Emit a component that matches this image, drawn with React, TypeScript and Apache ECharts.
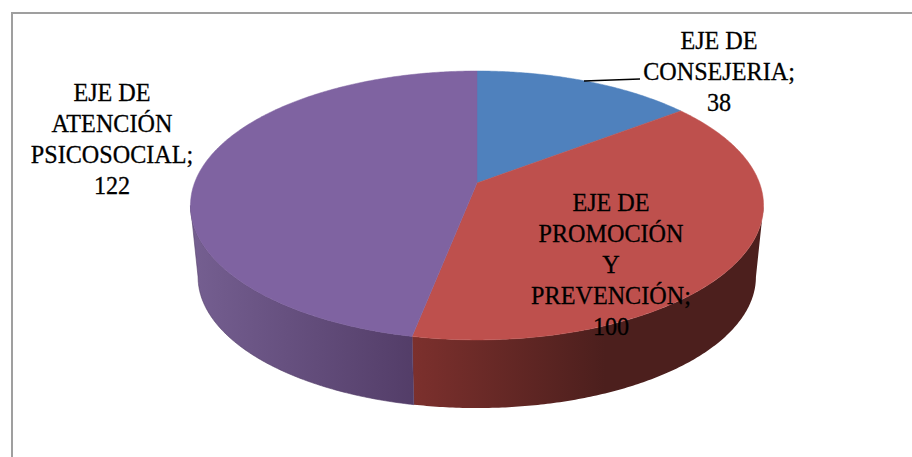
import React, { useEffect, useRef } from "react";
import * as echarts from "echarts";

const labelNames = ["EJE DE\nCONSEJERIA", "EJE DE\nPROMOCIÓN\nY\nPREVENCIÓN", "EJE DE\nATENCIÓN\nPSICOSOCIAL"];
const seriesValues = [38, 100, 122];
const topColors = ["#4f81bd", "#be504d", "#7f63a1"];
const wallStops: string[][] = [
  ["#3c6290", "#2c4a6e"],
  ["#7c302d", "#4c1f1d"],
  ["#755f91", "#533d68"],
];
const labelPositions = [
  [719, 71],
  [611, 264.5],
  [112, 138.5],
];

const VX = 477, VY = 183, K = 0.167;
const TOP = { a: 282.5, b: 130.7, cy: VY };
const BOT = { a: 275, b: 127.5, cy: 255 };
const VISIBLE = Math.acos(-K);

function rim(r: { a: number; b: number; cy: number }, t: number) {
  const X = Math.sin(t), Y = -Math.cos(t), w = 1 - K * Y;
  return [VX + (r.a * X) / w, r.cy + (r.b * Y) / w];
}
function arc(r: any, from: number, to: number) {
  const n = Math.max(2, Math.ceil(Math.abs(to - from) / 0.01));
  const pts: number[][] = [];
  for (let i = 0; i <= n; i++) pts.push(rim(r, from + ((to - from) * i) / n));
  return pts;
}

const total = seriesValues.reduce((s, v) => s + v, 0);
const angles = seriesValues.map((_, i) => {
  const before = seriesValues.slice(0, i).reduce((s, v) => s + v, 0);
  return [(before / total) * 2 * Math.PI, ((before + seriesValues[i]) / total) * 2 * Math.PI];
});

function renderItem(params: any, api: any) {
  const i = params.dataIndex;
  const [a0, a1] = angles[i];
  const children: any[] = [];
  const from = Math.max(a0, VISIBLE);
  const to = Math.min(a1, 2 * Math.PI - VISIBLE);
  if (to > from) {
    const pts = [...arc(TOP, from, to), ...arc(BOT, to, from)];
    const [c0, c1] = wallStops[i];
    const stops = i === 1
      ? [{ offset: 0, color: c0 }, { offset: 0.55, color: c1 }, { offset: 1, color: c1 }]
      : [{ offset: 0, color: c0 }, { offset: 1, color: c1 }];
    const fill = new echarts.graphic.LinearGradient(0, 0, 1, 0, stops);
    children.push({
      type: "polygon",
      z2: 1,
      shape: { points: pts },
      style: { fill, stroke: i === 1 ? c0 : c1, lineWidth: i === 1 ? 0 : 0.6 },
    });
  }
  children.push({
    type: "polygon",
    z2: 2,
    shape: { points: [[VX, VY], ...arc(TOP, a0, a1)] },
    style: { fill: topColors[i], stroke: topColors[i], lineWidth: 0.5 },
  });
  const [lx, ly] = labelPositions[i];
  children.push({
    type: "text",
    z2: 10,
    x: lx,
    y: ly,
    scaleX: 0.93,
    style: {
      text: `${labelNames[i]};\n${api.value(0)}`,
      x: 0,
      y: 0,
      align: "center",
      verticalAlign: "middle",
      lineHeight: 31,
      fontFamily: "Liberation Serif",
      fontSize: 26,
      fill: "#000",
      stroke: "#000",
      lineWidth: 0.3,
    },
  });
  if (i === 0) {
    children.push({
      type: "line",
      z2: 10,
      shape: { x1: 584, y1: 81, x2: 640, y2: 79 },
      style: { stroke: "#000", lineWidth: 1.5 },
    });
  }
  return { type: "group", children };
}

export default function App() {
  const ref = useRef<HTMLDivElement>(null);
  useEffect(() => {
    document.body.style.margin = "0";
    const chart = echarts.init(ref.current!, undefined, { renderer: "svg" });
    chart.setOption({
      animation: false,
      backgroundColor: "#fff",
      graphic: [
        {
          type: "rect",
          shape: { x: 12, y: 13, width: 1000, height: 1000 },
          style: { fill: "none", stroke: "#9f9f9f", lineWidth: 2 },
        },
      ],
      series: [
        {
          type: "custom",
          coordinateSystem: "none",
          renderItem,
          data: seriesValues.map((v) => [v]),
        },
      ],
    });
    return () => chart.dispose();
  }, []);
  return <div ref={ref} style={{ width: 912, height: 457 }} />;
}
